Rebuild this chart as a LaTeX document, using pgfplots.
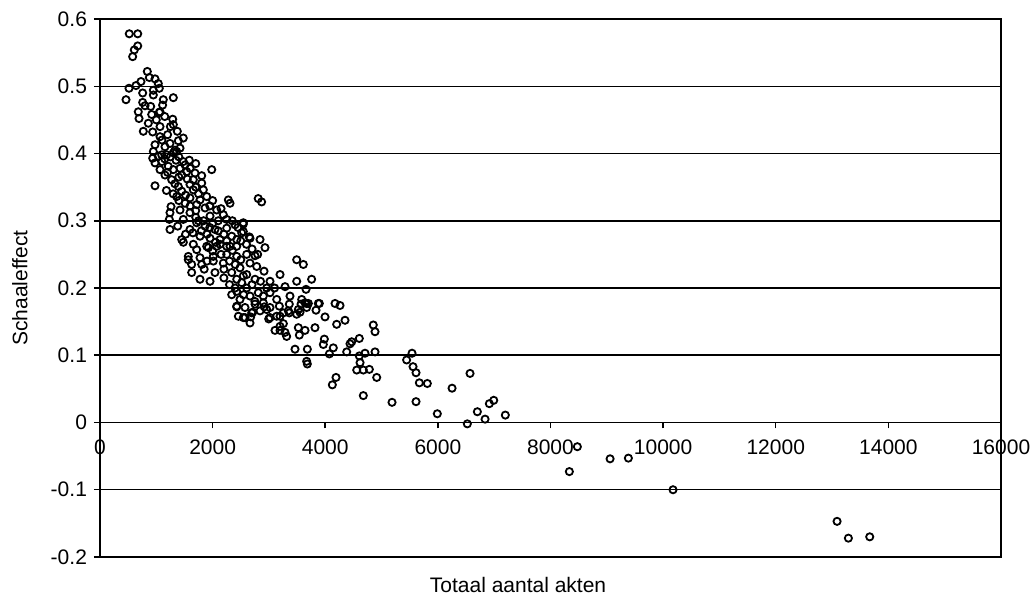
\documentclass[border=0pt]{standalone}
\usepackage{fontspec}
\setmainfont{Liberation Sans}
\usepackage{pgfplots}
\pgfplotsset{compat=1.18}
\begin{document}
\begin{tikzpicture}
\useasboundingbox (-50pt,-26.5pt) rectangle (467.5pt,278.5pt);
\begin{axis}[
  at={(0,0)}, anchor=south west,
  scale only axis, width=450.5pt, height=269pt,
  xmin=0, xmax=16000, ymin=-0.2, ymax=0.6,
  axis x line=middle, axis y line=left,
  x axis line style={-, line width=0.75pt},
  y axis line style={-, line width=1pt},
  hide obscured x ticks=false,
  scaled x ticks=false,
  xtick={0,2000,4000,6000,8000,10000,12000,14000,16000},
  xticklabels={0,2000,4000,6000,8000,10000,12000,14000,16000},
  ytick={-0.2,-0.1,0,0.1,0.2,0.3,0.4,0.5,0.6},
  yticklabels={-0.2,-0.1,0,0.1,0.2,0.3,0.4,0.5,0.6},
  ymajorgrids, grid style={black, line width=0.75pt},
  tick align=outside, major tick length=3pt,
  tick style={black, line width=0.75pt},
  xticklabel style={font=\fontsize{10.5}{12}\selectfont, yshift=-2pt},
  yticklabel style={font=\fontsize{10.5}{12}\selectfont},
  every axis x label/.style={at={(axis description cs:0.464,-0.052)}, anchor=center, font=\fontsize{10.5}{12}\selectfont},
  every axis y label/.style={at={(axis description cs:-0.089,0.5)}, anchor=center, rotate=90, font=\fontsize{10.5}{12}\selectfont},
  xlabel={Totaal aantal akten},
  ylabel={Schaaleffect},
  clip=false,
]
\draw[line width=1pt] (rel axis cs:0,0) rectangle (rel axis cs:1,1);
\addplot[only marks, mark=o, mark size=1.8pt, mark options={line width=0.9pt, black}] table {
x y
520 0.578
670 0.578
670 0.560
609 0.554
580 0.544
840 0.522
876 0.513
977 0.511
728 0.507
639 0.501
515 0.497
462 0.480
1035 0.504
947 0.494
1053 0.497
758 0.490
1302 0.483
1124 0.480
947 0.487
758 0.476
1112 0.472
799 0.471
680 0.462
693 0.452
918 0.458
1053 0.461
1066 0.462
858 0.445
769 0.433
936 0.432
1066 0.440
1291 0.451
1302 0.443
1373 0.433
1479 0.423
1391 0.419
1066 0.425
977 0.413
1154 0.410
1243 0.415
1332 0.405
1421 0.408
947 0.403
1035 0.396
1185 0.398
1479 0.388
1586 0.390
936 0.393
977 0.386
1096 0.398
1362 0.403
1302 0.401
1213 0.381
1066 0.376
1154 0.368
1302 0.376
1510 0.383
1421 0.378
1273 0.361
1451 0.368
1540 0.373
1687 0.371
1806 0.367
1657 0.361
1806 0.356
1984 0.376
1835 0.346
1598 0.354
977 0.352
1391 0.351
1451 0.344
1657 0.346
1362 0.336
1598 0.334
1895 0.336
1776 0.331
1510 0.326
1261 0.321
1717 0.324
1865 0.319
2072 0.316
2279 0.331
2309 0.326
2810 0.333
2870 0.328
1421 0.316
1598 0.312
1954 0.307
2190 0.309
1243 0.312
1231 0.302
1243 0.287
1479 0.302
1717 0.297
1865 0.292
2042 0.287
2250 0.289
2398 0.294
2545 0.295
1598 0.287
1776 0.277
1954 0.274
2131 0.272
2339 0.277
2516 0.282
2664 0.274
2842 0.272
1451 0.272
1480 0.268
1657 0.265
1895 0.262
2072 0.262
2250 0.262
2428 0.262
2930 0.260
1717 0.257
1924 0.260
2131 0.265
2309 0.262
2428 0.272
2545 0.297
1568 0.247
1776 0.245
2012 0.247
2250 0.250
2428 0.247
2605 0.250
1568 0.242
1628 0.235
1628 0.223
1776 0.213
1954 0.210
1806 0.235
2012 0.240
2042 0.223
2190 0.237
2339 0.223
2428 0.213
2486 0.230
2664 0.237
2783 0.232
2605 0.220
2753 0.213
2516 0.208
2545 0.218
2428 0.195
2605 0.200
2339 0.190
2486 0.183
2664 0.188
2811 0.193
2900 0.188
3019 0.193
2428 0.173
2575 0.171
2694 0.163
2457 0.158
2575 0.156
2842 0.166
2960 0.168
2664 0.148
3344 0.166
3493 0.161
3670 0.171
3197 0.143
3019 0.156
3138 0.158
2652 0.276
2545 0.284
2753 0.248
2913 0.225
3197 0.220
3493 0.242
3611 0.235
3493 0.210
3286 0.202
3659 0.198
3019 0.210
2960 0.200
3374 0.188
3582 0.183
3138 0.183
3256 0.163
3522 0.168
3641 0.178
2996 0.154
3758 0.213
3877 0.177
3670 0.177
1180 0.345
1330 0.355
1520 0.338
1700 0.305
1840 0.300
2000 0.296
2100 0.300
1380 0.292
1520 0.280
1650 0.282
1800 0.285
1900 0.280
2200 0.280
2000 0.255
2150 0.250
2300 0.240
2400 0.235
1850 0.228
2200 0.215
2300 0.205
1100 0.388
1150 0.392
1200 0.372
1250 0.395
1350 0.390
1400 0.365
1550 0.362
1600 0.378
1700 0.350
1750 0.340
1950 0.322
2000 0.330
2150 0.318
2250 0.302
2350 0.300
2450 0.290
2500 0.270
2600 0.265
2700 0.258
2800 0.250
2350 0.256
2250 0.270
2100 0.285
1950 0.290
1700 0.315
1600 0.322
1400 0.330
1300 0.340
1100 0.420
1200 0.428
1000 0.450
900 0.470
1150 0.455
1250 0.440
1400 0.395
1700 0.385
1750 0.300
2050 0.268
2700 0.205
2850 0.210
2550 0.190
2750 0.180
2900 0.178
3100 0.200
2400 0.200
2200 0.228
1900 0.240
2500 0.242
2428 0.172
2545 0.156
2676 0.157
2712 0.164
2753 0.176
2918 0.172
3019 0.171
3185 0.173
3362 0.176
3197 0.158
3362 0.163
3570 0.176
3700 0.177
3552 0.164
3895 0.177
4174 0.177
4262 0.174
3836 0.167
3996 0.157
4203 0.146
4351 0.152
3256 0.147
3108 0.137
3197 0.137
3286 0.134
3315 0.128
3522 0.141
3641 0.137
3818 0.141
3540 0.130
3984 0.124
3966 0.116
4143 0.111
3463 0.109
3682 0.109
4073 0.102
4381 0.105
4440 0.117
4470 0.120
4605 0.125
4853 0.145
4884 0.135
4884 0.105
4605 0.099
4706 0.103
3670 0.091
3682 0.087
4618 0.089
4559 0.078
4676 0.078
4783 0.079
4914 0.067
4191 0.067
4126 0.056
4676 0.040
5445 0.093
5541 0.103
5559 0.083
5612 0.074
5671 0.059
5813 0.058
6571 0.073
6252 0.051
5186 0.030
5612 0.031
5990 0.013
6523 -0.002
6701 0.016
6838 0.005
6914 0.028
6992 0.033
7198 0.011
8477 -0.036
8335 -0.073
9058 -0.054
9383 -0.053
10176 -0.100
13089 -0.147
13290 -0.172
13669 -0.170
};
\end{axis}
\end{tikzpicture}
\end{document}
